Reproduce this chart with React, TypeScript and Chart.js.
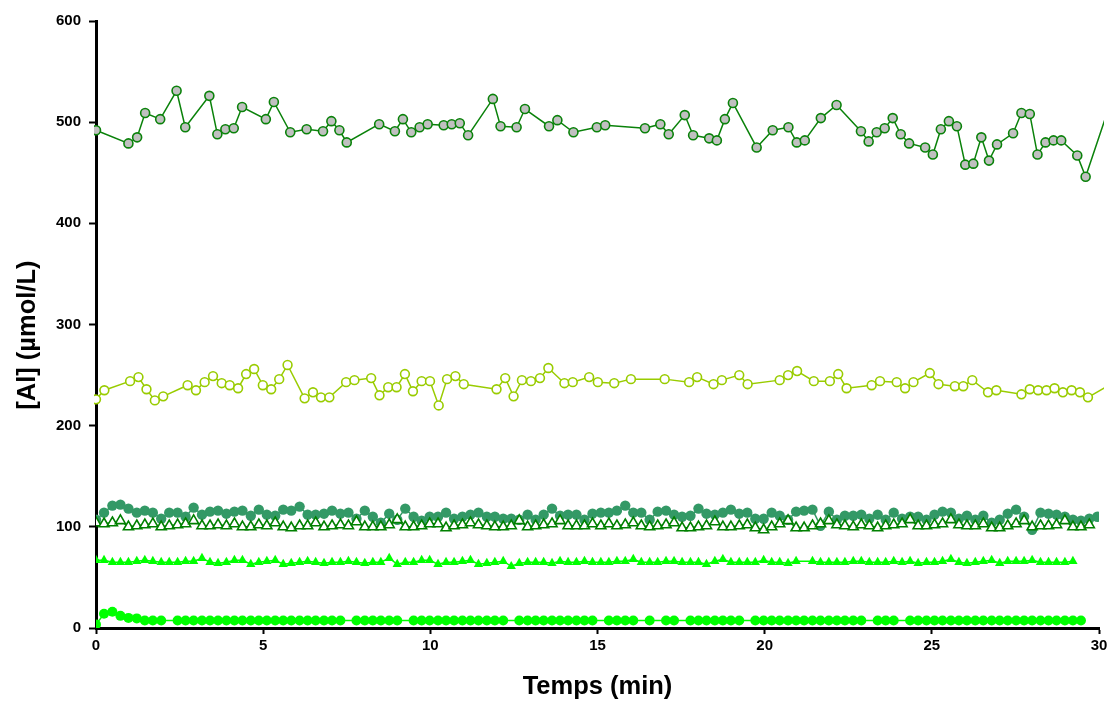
import React, { useEffect, useRef } from 'react';
import { Chart, registerables } from 'chart.js';

Chart.register(...registerables);

// ---- Axis ticks ----
const X_TICKS = [0, 5, 10, 15, 20, 25, 30];
const Y_TICKS = [0, 100, 200, 300, 400, 500, 600];

// ---- Top series (grey circles) ----
const TOP_T = [0, 0.97, 1.23, 1.47, 1.92, 2.41, 2.67, 3.39, 3.63, 3.87, 4.12, 4.37, 5.08, 5.32, 5.81, 6.30, 6.79, 7.04, 7.28, 7.50, 8.47, 8.94, 9.18, 9.43, 9.68, 9.92, 10.40, 10.64, 10.88, 11.13, 11.87, 12.10, 12.58, 12.83, 13.55, 13.80, 14.28, 14.98, 15.23, 16.42, 16.88, 17.13, 17.61, 17.86, 18.34, 18.57, 18.81, 19.05, 19.76, 20.24, 20.71, 20.96, 21.20, 21.68, 22.15, 22.88, 23.11, 23.35, 23.59, 23.83, 24.07, 24.32, 24.80, 25.03, 25.27, 25.51, 25.75, 26.00, 26.24, 26.48, 26.71, 26.95, 27.43, 27.68, 27.93, 28.16, 28.40, 28.64, 28.87, 29.35, 29.60, 30.20];
const TOP_V = [492, 479, 485, 509, 503, 531, 495, 526, 488, 493, 494, 515, 503, 520, 490, 493, 491, 501, 492, 480, 498, 491, 503, 490, 495, 498, 497, 498, 499, 487, 523, 496, 495, 513, 496, 502, 490, 495, 497, 494, 498, 488, 507, 487, 484, 482, 503, 519, 475, 492, 495, 480, 482, 504, 517, 491, 481, 490, 494, 504, 488, 479, 475, 468, 493, 501, 496, 458, 459, 485, 462, 478, 489, 509, 508, 468, 480, 482, 482, 467, 446, 505];

// ---- Middle series (open yellow-green circles) ----
const MID_T = [0, 0.25, 1.02, 1.27, 1.51, 1.76, 2.01, 2.74, 2.99, 3.25, 3.50, 3.76, 4.00, 4.25, 4.49, 4.73, 4.99, 5.24, 5.48, 5.73, 6.24, 6.49, 6.73, 6.98, 7.48, 7.73, 8.23, 8.48, 8.74, 8.99, 9.24, 9.48, 9.74, 9.99, 10.25, 10.50, 10.75, 11.00, 11.98, 12.24, 12.49, 12.74, 13.01, 13.28, 13.53, 14.01, 14.26, 14.75, 15.01, 15.50, 16.00, 17.01, 17.74, 17.98, 18.47, 18.72, 19.24, 19.49, 20.45, 20.70, 20.97, 21.47, 21.95, 22.20, 22.45, 23.20, 23.45, 23.95, 24.20, 24.45, 24.94, 25.20, 25.69, 25.94, 26.21, 26.68, 26.93, 27.68, 27.93, 28.18, 28.43, 28.67, 28.92, 29.18, 29.43, 29.67, 30.20];
const MID_V = [226, 235, 244, 248, 236, 225, 229, 240, 235, 243, 249, 242, 240, 237, 251, 256, 240, 236, 246, 260, 227, 233, 228, 228, 243, 245, 247, 230, 238, 238, 251, 234, 244, 244, 220, 246, 249, 241, 236, 247, 229, 245, 244, 247, 257, 242, 243, 248, 243, 242, 246, 246, 243, 248, 241, 245, 250, 241, 245, 250, 254, 244, 244, 251, 237, 240, 244, 243, 237, 243, 252, 241, 239, 239, 245, 233, 235, 231, 236, 235, 235, 237, 233, 235, 233, 228, 238];

// ---- Shared sampling times of the dense series (min) ----
const T = [0.00, 0.24, 0.49, 0.73, 0.97, 1.22, 1.46, 1.70, 1.95, 2.19, 2.44, 2.68, 2.92, 3.17, 3.41, 3.65, 3.90, 4.14, 4.38, 4.63, 4.87, 5.11, 5.36, 5.60, 5.84, 6.09, 6.33, 6.57, 6.82, 7.06, 7.31, 7.55, 7.79, 8.04, 8.28, 8.52, 8.77, 9.01, 9.25, 9.50, 9.74, 9.98, 10.23, 10.47, 10.71, 10.96, 11.20, 11.44, 11.69, 11.93, 12.18, 12.42, 12.66, 12.91, 13.15, 13.39, 13.64, 13.88, 14.12, 14.37, 14.61, 14.85, 15.10, 15.34, 15.58, 15.83, 16.07, 16.31, 16.56, 16.80, 17.05, 17.29, 17.53, 17.78, 18.02, 18.26, 18.51, 18.75, 18.99, 19.24, 19.48, 19.72, 19.97, 20.21, 20.45, 20.70, 20.94, 21.18, 21.43, 21.67, 21.92, 22.16, 22.40, 22.65, 22.89, 23.13, 23.38, 23.62, 23.86, 24.11, 24.35, 24.59, 24.84, 25.08, 25.32, 25.57, 25.81, 26.05, 26.30, 26.54, 26.79, 27.03, 27.27, 27.52, 27.76, 28.00, 28.25, 28.49, 28.73, 28.98, 29.22, 29.46, 29.71, 29.95];

// Dark green filled circles
const DARK_V = [107, 114, 121, 122, 118, 114, 116, 114, 108, 114, 114, 110, 119, 112, 115, 116, 113, 115, 116, 111, 117, 112, 111, 117, 116, 120, 112, 112, 113, 116, 113, 114, 108, 116, 110, 104, 113, 107, 118, 110, 106, 110, 110, 114, 108, 110, 112, 114, 110, 110, 108, 108, 107, 112, 107, 112, 118, 111, 112, 112, 107, 113, 114, 114, 116, 121, 114, 114, 107, 115, 116, 112, 110, 111, 118, 113, 112, 114, 117, 113, 114, 108, 108, 114, 111, 107, 115, 116, 117, 101, 115, 107, 111, 111, 112, 108, 112, 107, 114, 108, 110, 110, 107, 112, 115, 114, 108, 111, 107, 111, 104, 107, 113, 117, 110, 97, 114, 113, 112, 110, 107, 106, 108, 110];

// Open dark-green triangles
const OPEN_TRI_V = [104, 103, 104, 106, 100, 101, 102, 103, 100, 101, 102, 103, 106, 101, 101, 102, 101, 103, 100, 100, 102, 101, 104, 100, 99, 101, 101, 104, 100, 101, 102, 101, 105, 100, 100, 100, 102, 107, 100, 100, 101, 103, 103, 99, 101, 102, 104, 102, 101, 100, 100, 101, 106, 100, 101, 102, 103, 106, 101, 101, 101, 103, 101, 103, 101, 102, 104, 101, 100, 101, 102, 104, 99, 99, 100, 101, 105, 100, 100, 101, 102, 99, 97, 100, 103, 106, 99, 99, 101, 103, 106, 102, 101, 100, 102, 101, 99, 101, 102, 103, 107, 101, 101, 102, 103, 107, 102, 101, 101, 103, 99, 99, 101, 103, 106, 100, 101, 101, 102, 106, 100, 100, 102, null];

// Bright green filled triangles
const BRIGHT_TRI_V = [67, 67, 65, 65, 65, 66, 67, 66, 65, 65, 65, 66, 66, 69, 65, 64, 65, 67, 67, 63, 65, 66, 67, 63, 64, 65, 66, 65, 64, 65, 65, 66, 65, 64, 65, 65, 69, 63, 65, 65, 67, 67, 63, 65, 65, 66, 67, 63, 64, 65, 66, 61, 64, 65, 65, 65, 64, 66, 65, 65, 66, 65, 65, 65, 66, 66, 68, 65, 65, 65, 66, 66, 65, 65, 65, 63, 66, 68, 65, 65, 65, 65, 67, 65, 65, 64, 66, null, 66, 65, 65, 65, 65, 66, 66, 65, 65, 65, 66, 65, 66, 64, 65, 65, 66, 68, 65, 64, 65, 66, 67, 64, 66, 66, 66, 67, 65, 65, 65, 65, 66, null, null, null];

// Bright green filled circles
const BRIGHT_CIRC_V = [3.5, 14, 16, 12, 10, 9.5, 7.5, 7.5, 7.5, null, 7.5, 7.5, 7.5, 7.5, 7.5, 7.5, 7.5, 7.5, 7.5, 7.5, 7.5, 7.5, 7.5, 7.5, 7.5, 7.5, 7.5, 7.5, 7.5, 7.5, 7.5, null, 7.5, 7.5, 7.5, 7.5, 7.5, 7.5, null, 7.5, 7.5, 7.5, 7.5, 7.5, 7.5, 7.5, 7.5, 7.5, 7.5, 7.5, 7.5, null, 7.5, 7.5, 7.5, 7.5, 7.5, 7.5, 7.5, 7.5, 7.5, 7.5, null, 7.5, 7.5, 7.5, 7.5, null, 7.5, null, 7.5, 7.5, null, 7.5, 7.5, 7.5, 7.5, 7.5, 7.5, 7.5, null, 7.5, 7.5, 7.5, 7.5, 7.5, 7.5, 7.5, 7.5, 7.5, 7.5, 7.5, 7.5, 7.5, 7.5, null, 7.5, 7.5, 7.5, null, 7.5, 7.5, 7.5, 7.5, 7.5, 7.5, 7.5, 7.5, 7.5, 7.5, 7.5, 7.5, 7.5, 7.5, 7.5, 7.5, 7.5, 7.5, 7.5, 7.5, 7.5, 7.5, null, null];

const FONT = "'Liberation Sans', Arial, sans-serif";

function pairs(xs: number[], ys: (number | null)[]) {
  return xs.map((x, i) => ({ x, y: ys[i] === undefined ? null : ys[i] }));
}

// markers are hidden for samples past the end of the axis (line only)
const radiusInside = (r: number) => (ctx: any) => (ctx.raw && ctx.raw.x > 30 ? 0 : r);

export default function App() {
  const ref = useRef<HTMLCanvasElement | null>(null);

  useEffect(() => {
    if (!ref.current) return;
    const chart = new Chart(ref.current, {
      type: 'line',
      data: {
        datasets: [
          {
            label: 'open triangles',
            data: pairs(T, OPEN_TRI_V),
            borderColor: '#008000',
            backgroundColor: '#ffffff',
            pointStyle: 'triangle',
            pointRadius: 5.8,
            pointBorderWidth: 1.6,
            borderWidth: 1.5,
            spanGaps: true,
          },
          {
            label: 'dark circles',
            data: pairs(T, DARK_V),
            borderColor: '#339966',
            backgroundColor: '#339966',
            pointRadius: 5.2,
            pointBorderWidth: 0,
            borderWidth: 1.5,
            spanGaps: true,
          },
          {
            label: 'top',
            data: pairs(TOP_T, TOP_V),
            borderColor: '#0a820a',
            backgroundColor: '#c0c0c0',
            pointRadius: radiusInside(4.5),
            pointBorderWidth: 1.6,
            borderWidth: 1.5,
            clip: { left: 2, top: 2, bottom: 2, right: 5 },
          },
          {
            label: 'middle',
            data: pairs(MID_T, MID_V),
            borderColor: '#99cc00',
            backgroundColor: '#ffffff',
            pointRadius: radiusInside(4.4),
            pointBorderWidth: 1.6,
            borderWidth: 1.5,
            clip: { left: 2, top: 2, bottom: 2, right: 5 },
          },
          {
            label: 'bright triangles',
            data: pairs(T, BRIGHT_TRI_V),
            borderColor: '#00ff00',
            backgroundColor: '#00ff00',
            pointStyle: 'triangle',
            pointRadius: 5.4,
            pointBorderWidth: 0,
            borderWidth: 1.5,
            spanGaps: true,
          },
          {
            label: 'bright circles',
            data: pairs(T, BRIGHT_CIRC_V),
            borderColor: '#00ff00',
            backgroundColor: '#00ff00',
            pointRadius: 5,
            pointBorderWidth: 0,
            borderWidth: 1.5,
            spanGaps: true,
          },
        ],
      },
      options: {
        responsive: false,
        devicePixelRatio: 1,
        animation: false,
        layout: { padding: { top: 21, right: 12, left: 0, bottom: 0 } },
        plugins: { legend: { display: false }, tooltip: { enabled: false } },
        elements: { line: { tension: 0 } },
        scales: {
          x: {
            type: 'linear',
            min: 0,
            max: 30,
            afterBuildTicks: (s: any) => {
              s.ticks = X_TICKS.map((v) => ({ value: v }));
            },
            afterFit: (s: any) => {
              s.height = 74;
            },
            border: { display: true, color: '#000', width: 3 },
            grid: {
              display: true,
              drawOnChartArea: false,
              drawTicks: true,
              tickLength: 6,
              tickWidth: 2,
              tickColor: '#000',
            },
            ticks: {
              color: '#000',
              padding: 3,
              maxRotation: 0,
              font: { family: FONT, size: 15, weight: 'bold' },
            },
            title: {
              display: true,
              text: 'Temps (min)',
              color: '#000',
              padding: { top: 0, bottom: 0 },
              font: { family: FONT, size: 25.5, weight: 'bold' },
            },
          },
          y: {
            type: 'linear',
            min: 0,
            max: 600,
            afterBuildTicks: (s: any) => {
              s.ticks = Y_TICKS.map((v) => ({ value: v }));
            },
            afterFit: (s: any) => {
              s.width = 96;
            },
            border: { display: true, color: '#000', width: 3 },
            grid: {
              display: true,
              drawOnChartArea: false,
              drawTicks: true,
              tickLength: 7,
              tickWidth: 2,
              tickColor: '#000',
            },
            ticks: {
              color: '#000',
              padding: 8,
              font: { family: FONT, size: 15, weight: 'bold' },
            },
            title: {
              display: true,
              text: '[Al] (µmol/L)   ',
              color: '#000',
              padding: { top: 13, bottom: 0 },
              font: { family: FONT, size: 25.5, weight: 'bold' },
            },
          },
        },
      },
    } as any);
    return () => chart.destroy();
  }, []);

  return (
    <div style={{ position: 'fixed', left: 0, top: 0, width: 1111, height: 702, background: '#fff' }}>
      <canvas ref={ref} width={1111} height={702} style={{ width: 1111, height: 702, display: 'block' }} />
    </div>
  );
}
